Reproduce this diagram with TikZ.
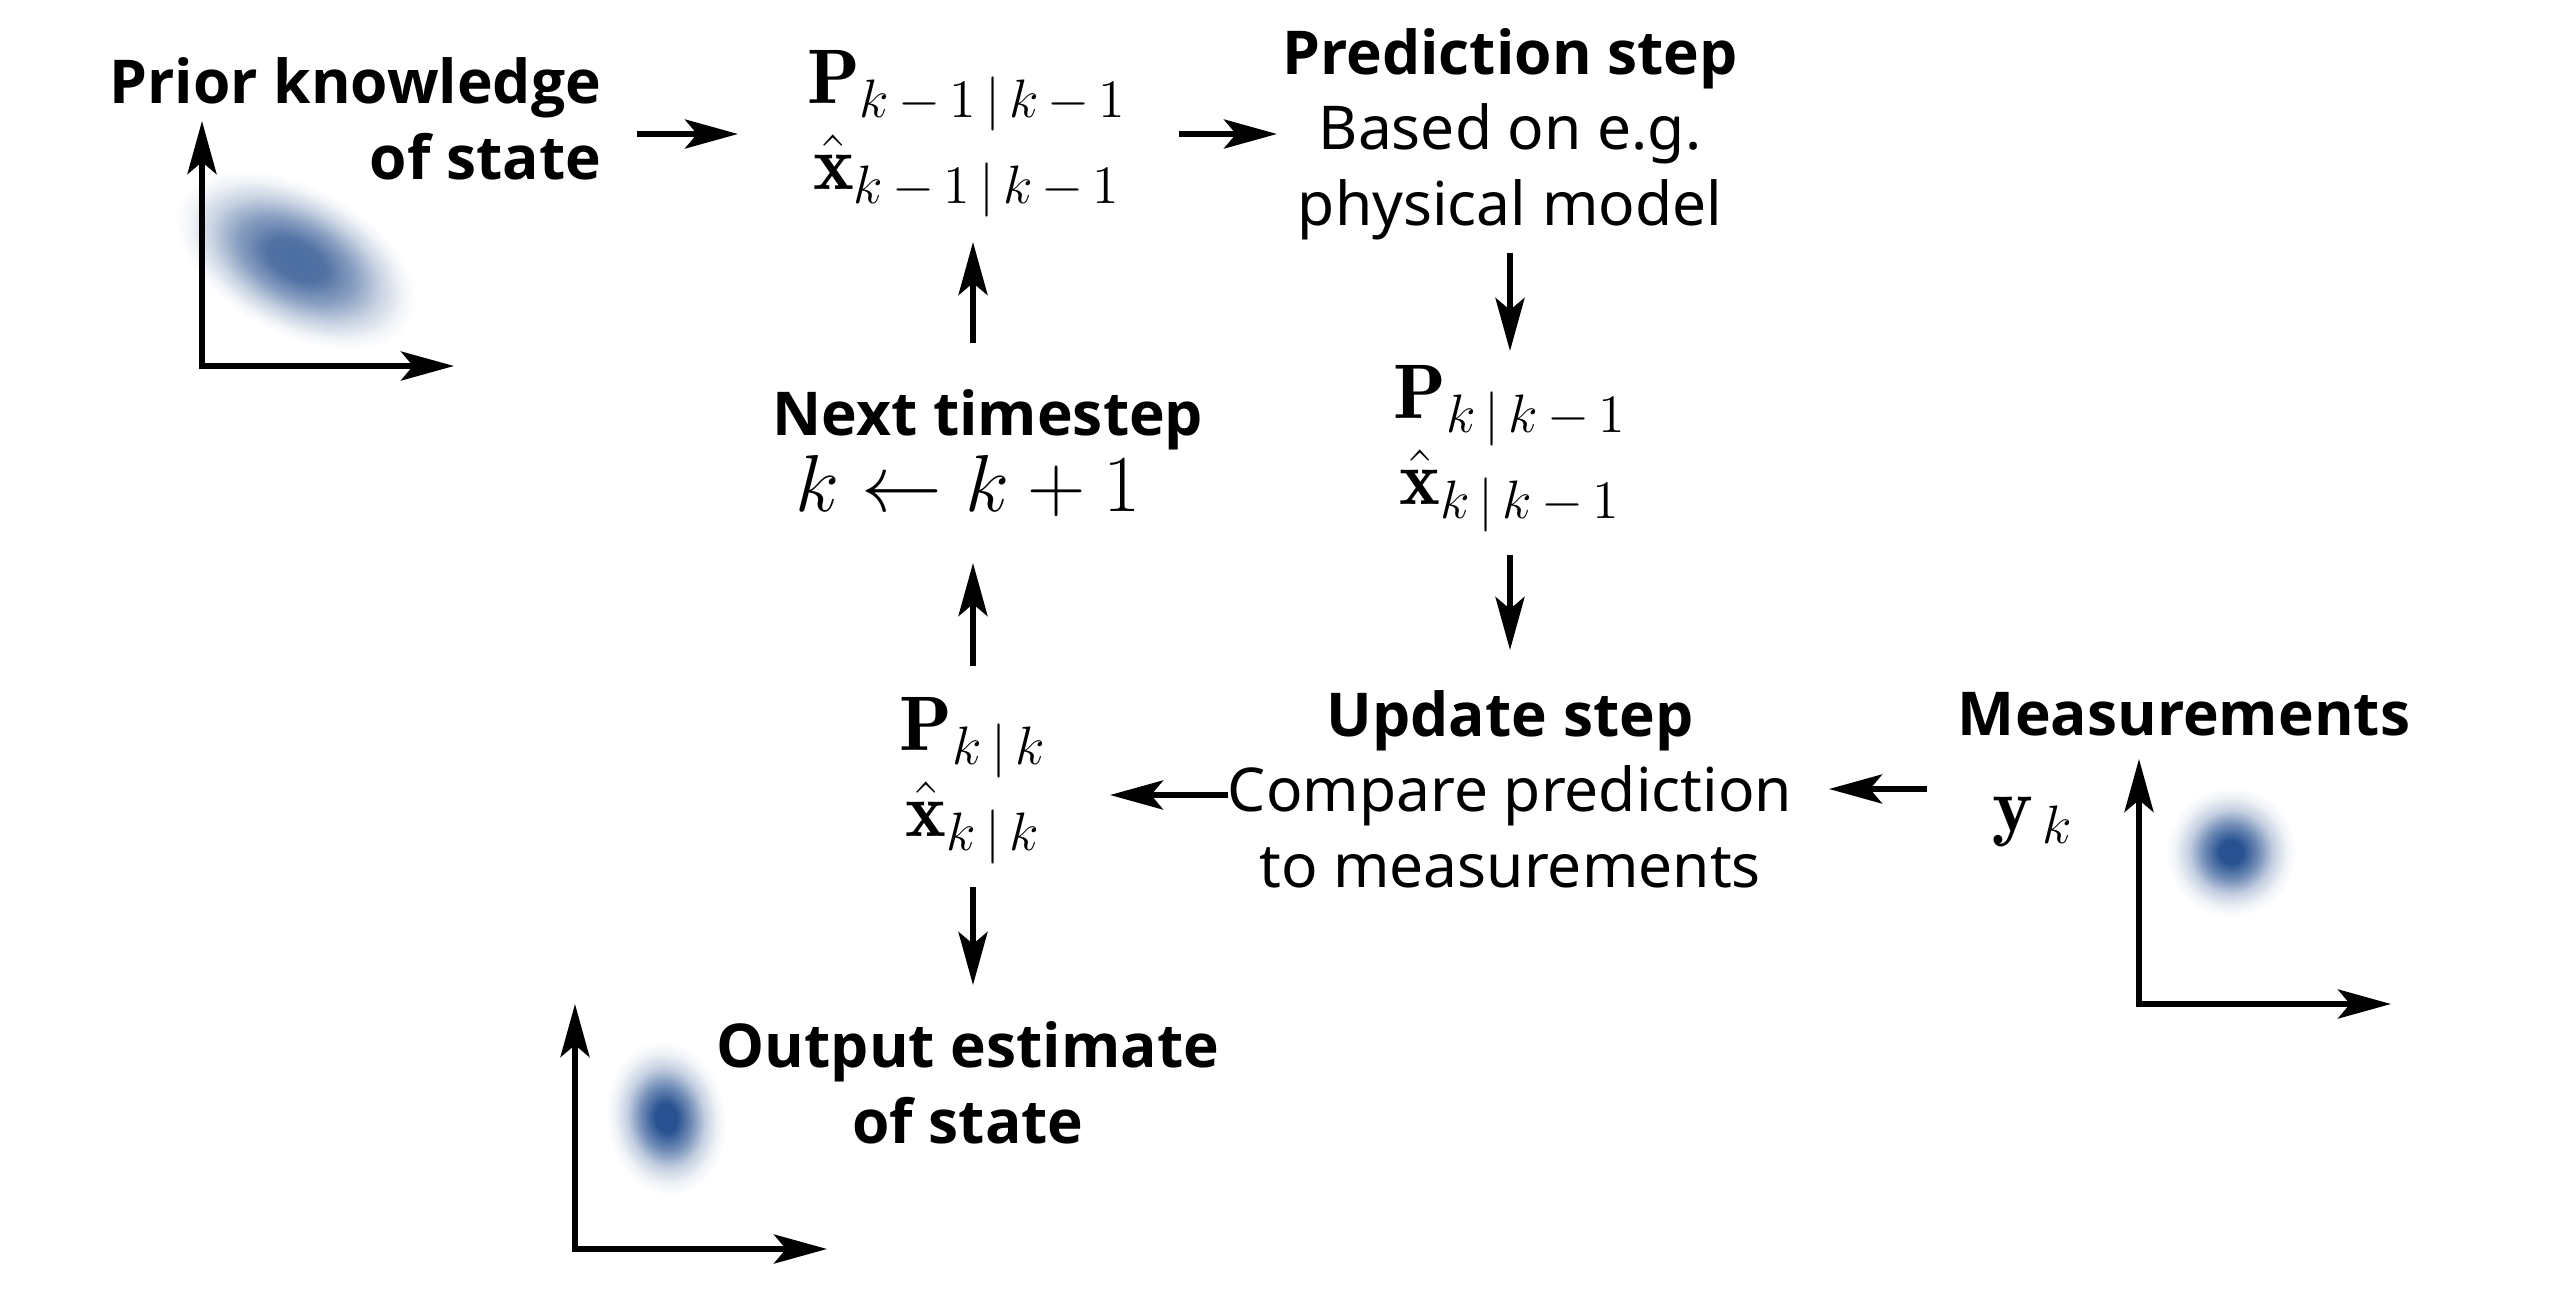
\RequirePackage{fix-cm}
\documentclass[tikz,border=0pt]{standalone}
\usepackage{fontspec}
\newfontfamily\nsans{Noto Sans}
\newfontfamily\osans{Open Sans}
\newcommand{\fett}[1]{{\osans\bfseries #1}}
\usepackage{tikz}
\usetikzlibrary{arrows.meta}
\definecolor{blau}{RGB}{40,82,145}
\definecolor{hellblau}{RGB}{74,108,160}
\pgfdeclareradialshading{Fleck}{\pgfpointorigin}{color(0bp)=(blau); color(9bp)=(blau); color(21bp)=(blau!66!white); color(32bp)=(blau!28!white); color(42bp)=(blau!8!white); color(50bp)=(white)}
\pgfdeclareradialshading{Fleckhell}{\pgfpointorigin}{color(0bp)=(hellblau); color(12bp)=(hellblau!96!white); color(24bp)=(hellblau!66!white); color(35bp)=(hellblau!30!white); color(44bp)=(hellblau!8!white); color(50bp)=(white)}
\tikzset{
  Text/.style={inner sep=0pt, align=center, font=\nsans\fontsize{17.2}{21.5}\selectfont}, % Beschriftung
  Formel/.style={inner sep=0pt, align=center, font=\fontsize{22}{22}\selectfont}, % Zustand und Kovarianz
}

\begin{document}
\begin{tikzpicture}[
>={Stealth[length=.53cm,width=.29cm,inset=.12cm]}, % Pfeilspitzen
line width=.057cm
]
\useasboundingbox (0,0) rectangle (25.6,-12.96);

%Verteilungen (Schattierung 100bp = 3.514cm)
\begin{scope}[transform canvas={shift={(2.96,-2.60)},rotate=-28,xscale=.74,yscale=.42}]
  \pgftext{\pgfuseshading{Fleckhell}}
\end{scope}
\begin{scope}[transform canvas={shift={(6.66,-11.18)},rotate=8,xscale=.34,yscale=.44}]
  \pgftext{\pgfuseshading{Fleck}}
\end{scope}
\begin{scope}[transform canvas={shift={(22.31,-8.52)},scale=.37}]
  \pgftext{\pgfuseshading{Fleck}}
\end{scope}

%Achsen
\foreach \x/\y in {2.02/-3.66, 5.75/-12.49, 21.39/-10.04}
  \draw[<->] (\x,\y+2.45) -- (\x,\y) -- (\x+2.52,\y);

%Knoten
\node[Text, anchor=east, align=right] (prior) at (6.04,-1.19) {\fett{Prior knowledge}\\\fett{of state}};
\node[Formel] (pprev) at (9.67,-1.34) {$\mathbf{P}_{k\,-\,1\,|\,k\,-\,1}$\\$\hat{\mathbf{x}}_{k\,-\,1\,|\,k\,-\,1}$};
\node[Text] (pred) at (15.10,-1.34) {\fett{Prediction step}\\Based on e.g.\\physical model};
\node[Formel] (ppred) at (15.10,-4.49) {$\mathbf{P}_{k\,|\,k\,-\,1}$\\$\hat{\mathbf{x}}_{k\,|\,k\,-\,1}$};
\node[Text] (upd) at (15.10,-7.89) {\fett{Update step}\\Compare prediction\\to measurements};
\node[Text] (meas) at (21.84,-7.14) {\fett{Measurements}};
\node[Formel] (yk) at (20.33,-8.22) {$\mathbf{y}_{\,k}$};
\node[Formel] (pnew) at (9.73,-7.81) {$\mathbf{P}_{k\,|\,k}$\\$\hat{\mathbf{x}}_{k\,|\,k}$};
\node[Text] (next) at (9.88,-4.53) {\fett{Next timestep}\\{\fontsize{23}{22}\selectfont$k \leftarrow k+1$\hspace*{.4cm}}};
\node[Text] (out) at (9.68,-10.83) {\fett{Output estimate}\\\fett{of state}};

%Pfeile
\draw[->, shorten <=.33cm, shorten >=2.29cm] (prior.east |- pprev.center) -- (pprev.center);
\draw[->, shorten <=2.12cm, shorten >=2.33cm] (pprev.center) -- (pprev.center -| pred.center);
\draw[->, shorten <=1.19cm, shorten >=.98cm] (pred.center) -- (ppred.center);
\draw[->, shorten <=1.06cm, shorten >=1.39cm] (ppred.center) -- (upd.center);
\draw[->, shorten <=2.57cm, shorten >=3.19cm] (meas.center |- upd.center) -- (upd.center);
\draw[->, shorten <=2.82cm, shorten >=1.37cm] ([yshift=-.06cm]upd.center) -- ([yshift=-.06cm]upd.center -| pnew.center);
\draw[->, shorten <=1.15cm, shorten >=1.10cm] (pnew.center) -- (pnew.center |- next.center);
\draw[->, shorten <=1.10cm, shorten >=1.08cm] (pnew.center |- next.center) -- (pnew.center |- pprev.center);
\draw[->, shorten <=1.06cm, shorten >=.98cm] (pnew.center) -- (pnew.center |- out.center);

\end{tikzpicture}
\end{document}
